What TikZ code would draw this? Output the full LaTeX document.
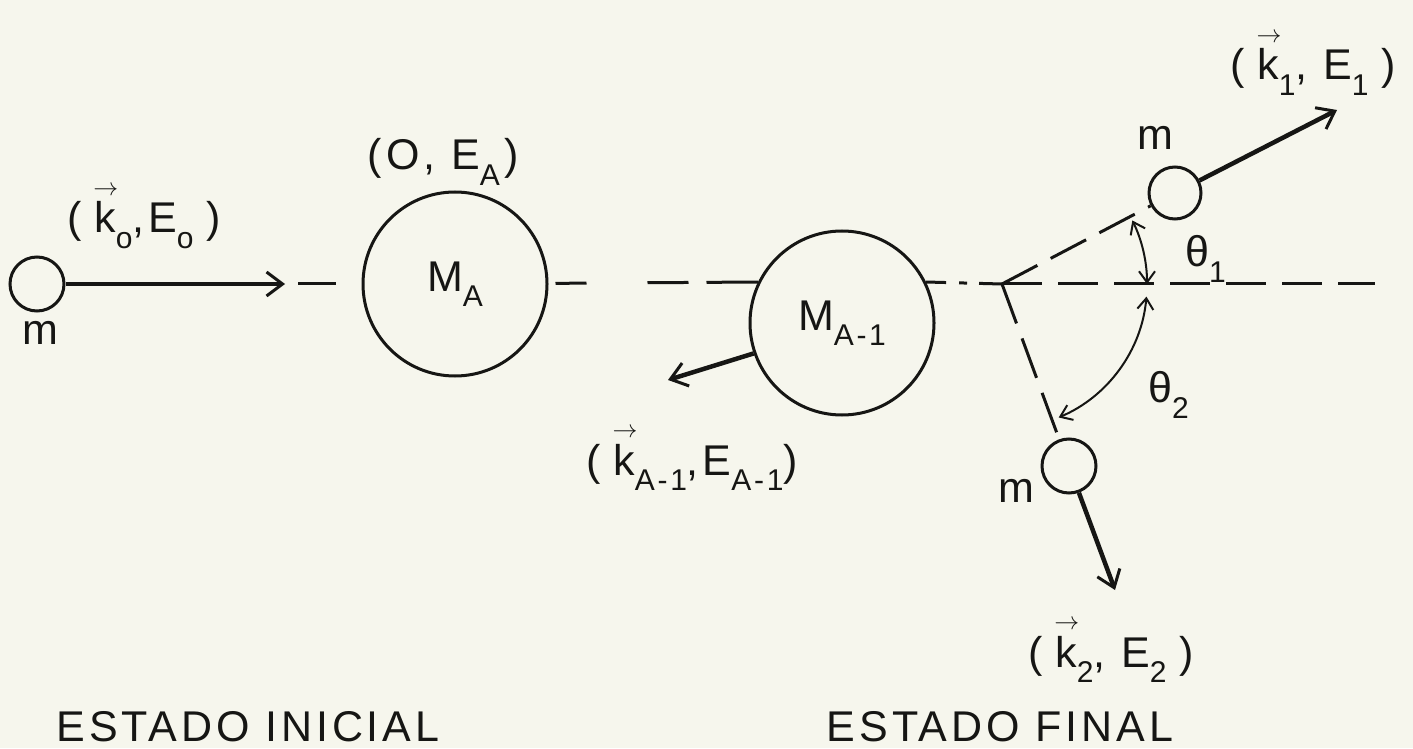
\documentclass[tikz,border=0pt]{standalone}
\usepackage{fontspec}
\setmainfont{Liberation Sans}[LetterSpace=9]
\usetikzlibrary{arrows.meta}
\definecolor{ink}{RGB}{22,22,20}
\definecolor{paper}{RGB}{246,246,237}
\newcommand{\lowidx}[1]{\raisebox{-0.36em}{\fontsize{30}{31}\selectfont #1}}
\newcommand{\kvec}{\makebox[0pt][l]{\raisebox{0.88em}{\kern-0.02em\fontsize{32}{32}\selectfont$\rightarrow$}}k}
\newcommand{\pgap}{\hspace{0.3em}}

\begin{document}
\begin{tikzpicture}[x=1pt,y=1pt,
    every node/.style={font=\fontsize{43}{45}\selectfont,text=ink,inner sep=0pt},
    particle/.style={draw=ink,circle,line width=3pt,inner sep=0pt},
    momentum/.style={draw=ink,line width=4.5pt,
      -{Straight Barb[length=16pt,width=24pt,line width=3pt]}},
    axisline/.style={draw=ink,line width=3pt},
    anglearrow/.style={draw=ink,line width=2pt,
      {Straight Barb[length=11pt,width=16pt]}-{Straight Barb[length=11pt,width=16pt]}},
    txt/.style={anchor=base}]
  \fill[paper] (0,0) rectangle (1413,748);
  \useasboundingbox (0,0) rectangle (1413,748);

  % initial state
  \node[particle,minimum size=54pt] (m0) at (37,464) {};
  \node[particle,minimum size=184pt] (MA) at (455,464) {M\lowidx{A}};
  \coordinate (k0tip) at (285,464);
  \draw[momentum] (m0) -- (k0tip);
  \draw[axisline,shorten <=13pt,shorten >=26pt] (k0tip) -- (MA);
  \node[txt] (m0lab) at (40,403) {m};
  \node[txt] (k0lab) at (144,515) {(\pgap\kvec\lowidx{o},E\lowidx{o}\pgap)};
  \node[txt] (MAlab) at (443,578) {(\hspace{0.1em}O, E\lowidx{A}\hspace{0.1em})};

  % final state
  \node[particle,minimum size=184pt] (MAone) at (842,425) {M\lowidx{A-1}};
  \node[particle,minimum size=52pt] (m1) at (1175,555) {};
  \node[particle,minimum size=54pt] (m2) at (1069,282) {};
  \coordinate (V) at (1002,464);
  \coordinate (axisend) at (1375,464);
  \coordinate (kAtip) at (668,368);
  \coordinate (k1tip) at (1337,638);
  \coordinate (k2tip) at (1115,158);

  \draw[axisline,dash pattern=on 31pt off 61pt on 41pt off 18pt on 80pt,
    shorten <=7pt] (MA) -- (MAone.154);
  \draw[axisline,dash pattern=on 20pt off 13pt on 8pt off 12pt on 30pt]
    (MAone.26) -- (V);
  \draw[axisline,dash pattern=on 40pt off 16pt] (V) -- (axisend);
  \draw[axisline,dash pattern=on 40pt off 15pt] (V) -- (m1);
  \draw[axisline,dash pattern=on 42pt off 16pt] (V) -- (m2);

  \draw[momentum] (MAone.199) -- (kAtip);
  \draw[momentum] (m1) -- (k1tip);
  \draw[momentum] (m2) -- (k2tip);

  \draw[anglearrow] ([shift={(0:145pt)}]V) arc[start angle=0,end angle=26,radius=145pt];
  \draw[anglearrow] ([shift={(-5:145pt)}]V) arc[start angle=-5,end angle=-67,radius=145pt];

  \node[txt] (kAlab) at (692,273) {(\pgap\kvec\lowidx{A-1},E\lowidx{A-1})};
  \node[txt] (m1lab) at (1155,598) {m};
  \node[txt] (k1lab) at (1313,668) {(\pgap\kvec\lowidx{1}, E\lowidx{1}\pgap)};
  \node[txt,anchor=base west] (t1lab) at (1185,481) {θ\lowidx{1}};
  \node[txt,anchor=base west] (t2lab) at (1148,345) {θ\lowidx{2}};
  \node[txt] (m2lab) at (1016,246) {m};
  \node[txt] (k2lab) at (1111,81) {(\pgap\kvec\lowidx{2}, E\lowidx{2}\pgap)};

  \node[txt] (inilab) at (248,7) {ESTADO INICIAL};
  \node[txt] (finlab) at (1000,7) {ESTADO FINAL};
\end{tikzpicture}
\end{document}
